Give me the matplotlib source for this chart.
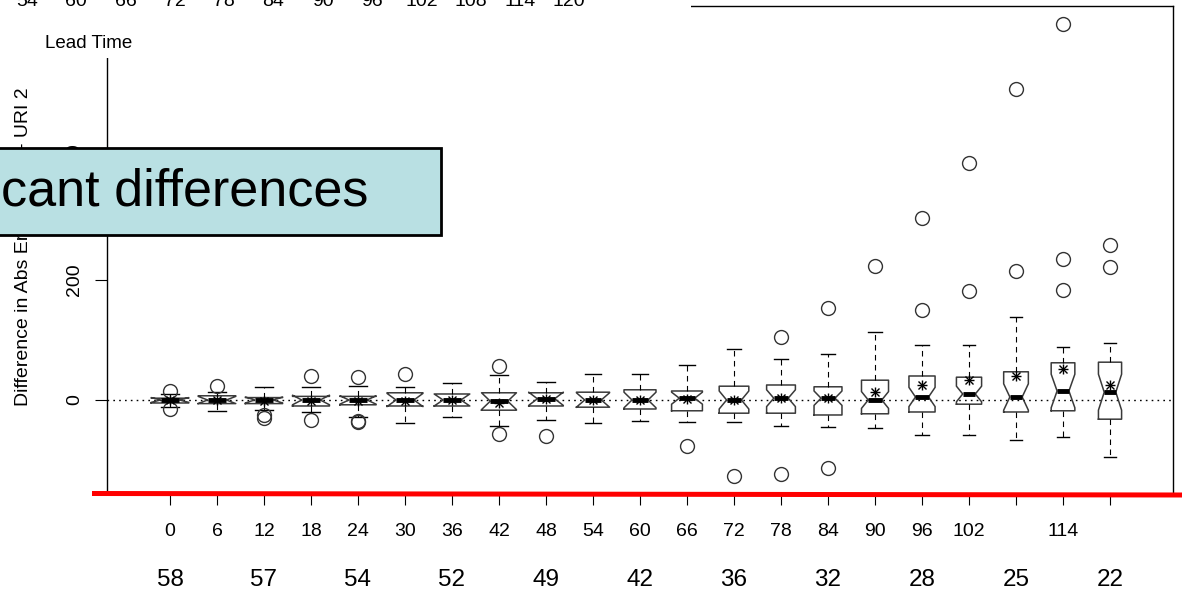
import matplotlib
matplotlib.use("Agg")
import matplotlib.pyplot as plt
import numpy as np
from matplotlib.patches import Rectangle
from matplotlib.lines import Line2D
from matplotlib.transforms import blended_transform_factory

plt.rcParams['font.family'] = ['Liberation Sans', 'DejaVu Sans']

# box statistics per lead time
lead_times = [0, 6, 12, 18, 24, 30, 36, 42, 48, 54, 60, 66, 72, 78, 84, 90, 96, 102, 108, 114, 120]
tick_labels = ['0', '6', '12', '18', '24', '30', '36', '42', '48', '54', '60', '66', '72', '78',
               '84', '90', '96', '102', '', '114', '']
whislo = [-11, -18, -17, -20, -28, -38, -28, -43, -33, -38, -35, -37, -37, -43, -45, -47, -58, -58, -67, -62, -95]
q1 = [-5, -6, -6, -10, -8, -10, -10, -17, -10, -12, -15, -18, -22, -22, -25, -23, -20, -7, -20, -18, -32]
med = [0, 0, 0, 0, 0, 0, 0, -2, 2, 0, 0, 3, 0, 3, 3, 0, 5, 10, 5, 15, 13]
q3 = [3, 7, 4, 6, 6, 12, 10, 12, 12, 13, 17, 15, 23, 25, 22, 33, 40, 38, 47, 62, 63]
whishi = [10, 13, 22, 22, 23, 22, 28, 42, 30, 43, 43, 58, 85, 68, 77, 113, 92, 92, 138, 88, 95]
means = [0, 0, -1, -1, -1, -1, 0, -5, 2, 0, 0, 2, 0, 3, 3, 13, 25, 33, 40, 52, 25]
notch = [4, 6, 5, 8, 7, 11, 10, 14, 11, 12, 13, 10, 15, 14, 12, 14, 16, 13, 22, 28, 30]
outliers = [[15, -15], [23], [-25, -30], [40, -33], [38, -37, -35], [43], [], [57, -57], [-60],
            [], [], [-77], [-127], [105, -123], [153, -113], [223], [150, 303], [182, 395],
            [215, 518], [183, 235, 627], [222, 258]]
# cases per box (box widths follow sqrt(n), as R varwidth)
n_cases = [58, 58, 57, 56, 54, 53, 52, 50, 49, 45, 42, 39, 36, 34, 32, 30, 28, 26, 25, 23, 22]

# sample sizes typed under the axis
sample_sizes = [58, 57, 54, 52, 49, 42, 36, 32, 28, 25, 22]
# bottom of the previous chart's axis labels, cut at the top of the slide
top_labels = ['54', '60', '66', '72', '78', '84', '90', '96', '102', '108', '114', '120']

W, H = 1182, 594
fig = plt.figure(figsize=(W / 100, H / 100), dpi=100)


def fx(px):
    return px / W


def fy(py):
    return 1 - py / H


ax = fig.add_axes([fx(107), fy(494), fx(1173) - fx(107), fy(6) - fy(494)])
positions = list(range(1, len(lead_times) + 1))

stats = []
for i in range(len(lead_times)):
    stats.append(dict(med=med[i], q1=q1[i], q3=q3[i], whislo=whislo[i], whishi=whishi[i],
                      cilo=med[i] - notch[i], cihi=med[i] + notch[i], fliers=outliers[i]))

widths = 0.8 * np.sqrt(np.array(n_cases) / max(n_cases))

ax.axhline(0, color='black', lw=1, linestyle=(0, (1.2, 3)), zorder=1)
ax.bxp(stats, positions=positions, widths=widths, capwidths=0.5 * widths, shownotches=True,
       manage_ticks=False,
       boxprops=dict(color='#3a3a3a', lw=1.1),
       whiskerprops=dict(color='black', lw=0.8, linestyle=(0, (5, 4))),
       capprops=dict(color='black', lw=1),
       medianprops=dict(color='black', lw=3.5, solid_capstyle='butt'),
       flierprops=dict(marker='o', markerfacecolor='none', markeredgecolor='#333333',
                       markersize=10, markeredgewidth=1))
ax.plot(positions, means, linestyle='none', marker='+', color='black', markersize=7.5, mew=1)
ax.plot(positions, means, linestyle='none', marker='x', color='black', markersize=5.5, mew=1)

ax.set_xlim(-0.34, 22.34)
ax.set_ylim(-156.7, 656.7)
ax.set_xticks(positions)
ax.set_xticklabels(tick_labels)
ax.set_yticks([0, 200, 400, 600])
ax.set_yticklabels(['0', '200', '400', ''], rotation=90, va='center')
ax.tick_params(axis='x', direction='out', length=8, width=0.8, pad=13, labelsize=14)
ax.tick_params(axis='y', direction='out', length=8.6, width=0.8, pad=8.5, labelsize=14)
for s in ax.spines.values():
    s.set_linewidth(1)

fig.text(fx(24), fy(247), 'Difference in Abs Error URI 1 - URI 2', rotation=90,
         ha='center', va='center', fontsize=14)

# sample sizes row
trans = blended_transform_factory(ax.transData, fig.transFigure)
for k, n in enumerate(sample_sizes):
    ax.text(positions[2 * k], fy(580), str(n), transform=trans, ha='center', va='center',
            fontsize=17.5, clip_on=False)

# white piece of the previous chart covering the top-left
fig.add_artist(Rectangle((0, fy(58)), fx(691), 1 - fy(58), transform=fig.transFigure,
                         facecolor='white', edgecolor='none', zorder=5))
for k, lab in enumerate(top_labels):
    fig.text(fx(27 + 49.3 * k), fy(6), lab, ha='center', va='baseline', fontsize=14, zorder=6)
fig.text(fx(45), fy(43), 'Lead Time', ha='left', va='center', fontsize=13.5, zorder=6)

# callout box
fig.add_artist(Rectangle((fx(-5), fy(235)), fx(441) - fx(-5), fy(148) - fy(235),
                         transform=fig.transFigure, facecolor='#b9e0e3', edgecolor='black',
                         lw=2, zorder=7))
fig.text(fx(368), fy(205), 'cant differences', ha='right', va='baseline', fontsize=37.5, zorder=8)

# red underline
fig.add_artist(Line2D([fx(92), fx(1182)], [fy(493.5), fy(495)], transform=fig.transFigure,
                      color='red', lw=3.6, solid_capstyle='butt', zorder=9))

fig.savefig('out.png', dpi=100)
